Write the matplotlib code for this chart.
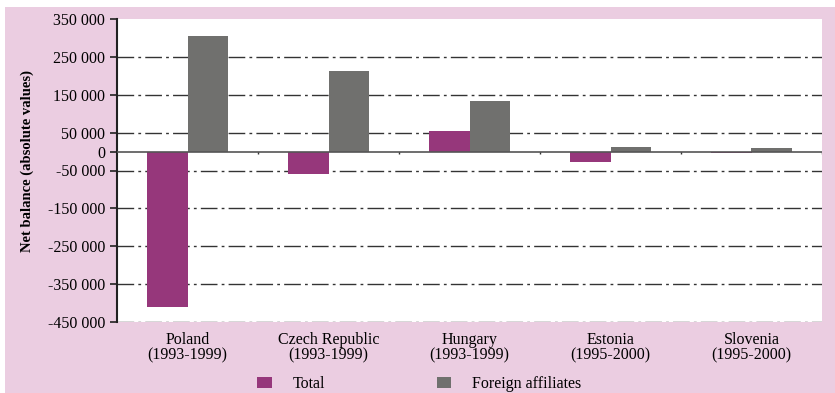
import numpy as np
import matplotlib.pyplot as plt
from matplotlib.patches import Rectangle
from matplotlib.ticker import FuncFormatter

# Net balance of trade, total vs foreign affiliates
countries = ['Poland\n(1993-1999)', 'Czech Republic\n(1993-1999)', 'Hungary\n(1993-1999)',
             'Estonia\n(1995-2000)', 'Slovenia\n(1995-2000)']
total = [-410000, -60000, 55000, -27000, -3000]
foreign = [305000, 212000, 133000, 12000, 10000]
yticks = [350000, 250000, 150000, 50000, 0, -50000, -150000, -250000, -350000, -450000]

pink = '#ebcde1'
purple = '#96377b'
grey = '#70706e'

plt.rcParams['font.family'] = 'Liberation Serif'

fig = plt.figure(figsize=(8.35, 3.93), dpi=100)
fig.patch.set_facecolor('white')
fig.patches.append(Rectangle((5 / 835, 0), 1, 1 - 7 / 393, transform=fig.transFigure,
                             facecolor=pink, edgecolor='none', zorder=-10))

ax = fig.add_axes([117 / 835, 1 - 322 / 393, 705 / 835, 303 / 393])
ax.set_facecolor('white')

x = np.arange(len(countries))
w = 0.29
ax.bar(x - w / 2, total, w, color=purple, label='Total', zorder=3)
ax.bar(x + w / 2, foreign, w, color=grey, label='Foreign affiliates', zorder=3)

# dash-dot grid, solid zero line
for v in yticks:
    if v == 0 or v == max(yticks):
        continue
    ax.axhline(v, color='#333333', lw=1.0, dashes=(12, 3, 2, 3), zorder=1)
ax.axhline(0, color='#555555', lw=1.2, zorder=4)
ax.vlines(x[:-1] + 0.5, -7000, 0, color='#333333', lw=1.0, zorder=4)
ax.vlines([len(countries) - 0.5], -7000, 0, color='#333333', lw=1.0, zorder=4)

ax.set_xlim(-0.5, len(countries) - 0.5)
ax.set_ylim(min(yticks), max(yticks))
ax.set_yticks(yticks)
ax.yaxis.set_major_formatter(FuncFormatter(lambda v, p: f'{int(v):,}'.replace(',', ' ')))
ax.set_xticks(x)
ax.set_xticklabels(countries, fontsize=11.5, linespacing=1.0)
ax.tick_params(axis='x', length=0, pad=7)
ax.tick_params(axis='y', labelsize=11.5, length=5, width=1.2, direction='out', color='#222222')

for s in ['top', 'right', 'bottom']:
    ax.spines[s].set_visible(False)
ax.spines['left'].set_linewidth(1.5)
ax.spines['left'].set_color('#222222')

ax.set_ylabel('Net balance (absolute values)', fontsize=10.5, fontweight='bold')
ax.yaxis.set_label_coords(-0.118, 0.53)

fig.legend(loc='center', bbox_to_anchor=(0.502, 0.022), ncol=2, frameon=False,
           fontsize=11.5, handlelength=0.9, handleheight=0.7, handletextpad=1.3,
           columnspacing=7)

fig.savefig('out.png', dpi=100, facecolor=fig.get_facecolor())
